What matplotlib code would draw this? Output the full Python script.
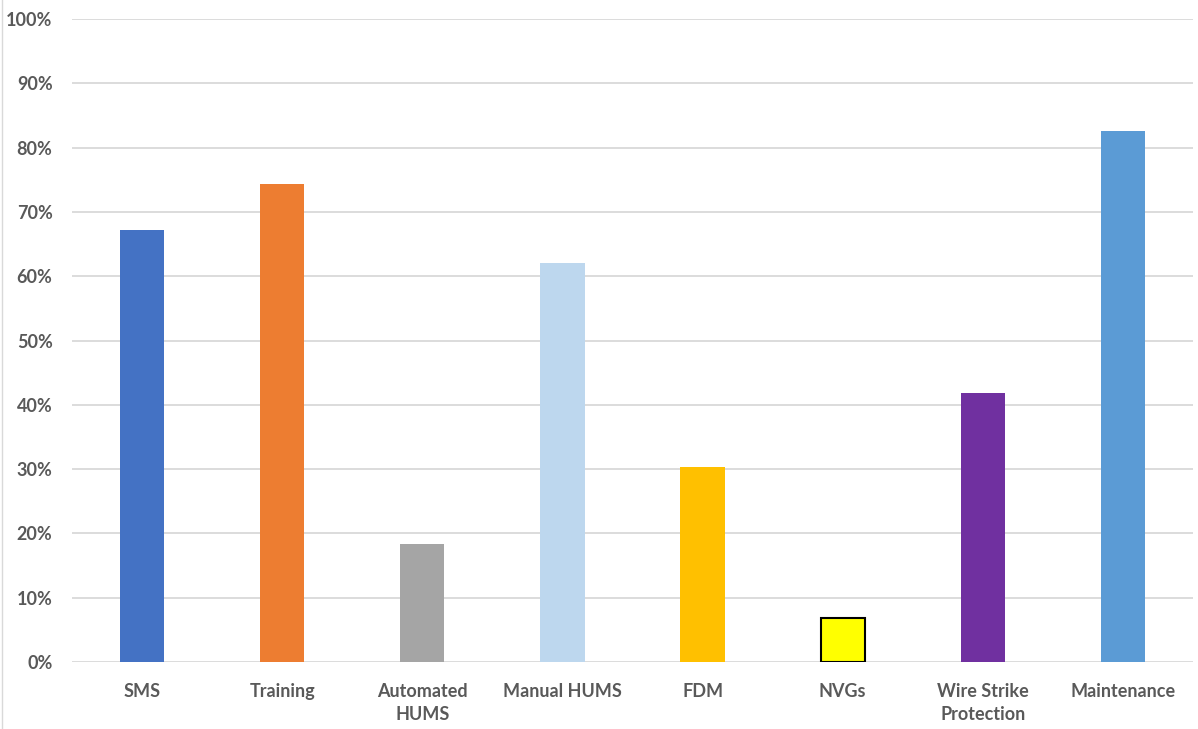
import matplotlib
matplotlib.use("Agg")
import matplotlib.pyplot as plt
from matplotlib.ticker import PercentFormatter

categories = ["SMS", "Training", "Automated\nHUMS", "Manual HUMS", "FDM", "NVGs",
              "Wire Strike\nProtection", "Maintenance"]
values = [67.2, 74.4, 18.4, 62.1, 30.4, 6.9, 41.8, 82.6]
colors = ["#4472C4", "#ED7D31", "#A5A5A5", "#BDD7EE", "#FFC000", "#FFFF00",
          "#7030A0", "#5B9BD5"]
edges = ["none"] * 5 + ["black"] + ["none"] * 2

plt.rcParams['font.family'] = ['Lato', 'DejaVu Sans']
W, H = 1198, 729
fig = plt.figure(figsize=(W / 100, H / 100), dpi=100)
ax = fig.add_axes([72 / W, 1 - 662 / H, (1193 - 72) / W, (662 - 19) / H])

x = list(range(len(categories)))
ax.bar(x, values, width=0.315, color=colors, edgecolor=edges, linewidth=1.5, zorder=3)
ax.set_xlim(-0.5, len(categories) - 0.5)
ax.set_ylim(0, 100)
ax.set_yticks(range(0, 101, 10))
ax.yaxis.set_major_formatter(PercentFormatter(decimals=0))
ax.set_xticks(x)
ax.set_xticklabels(categories, fontsize=13, fontweight='bold', color='#595959',
                   linespacing=1.45)
for lab in ax.get_yticklabels():
    lab.set_fontsize(13)
    lab.set_fontweight('bold')
    lab.set_color('#595959')
ax.grid(axis='y', color='#D9D9D9', linewidth=1.3, zorder=0)
for s in ax.spines.values():
    s.set_visible(False)
ax.tick_params(length=0, pad=14)
ax.tick_params(axis='x', pad=15)

fig.add_artist(plt.Line2D([1.5 / W, 1.5 / W], [0, 1], color='#D9D9D9', linewidth=1))
fig.savefig("out.png", dpi=100)
